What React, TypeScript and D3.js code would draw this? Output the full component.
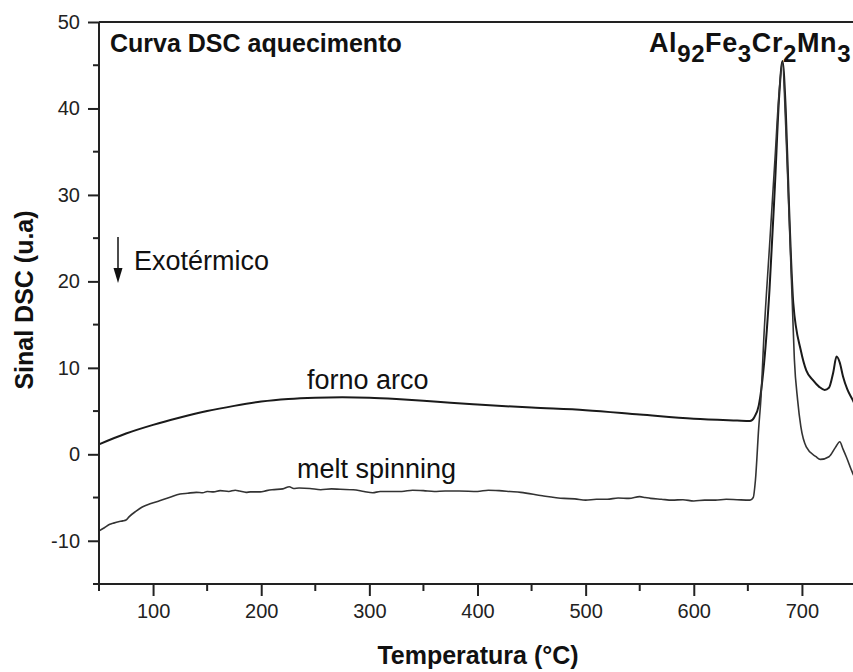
import { useEffect, useRef } from "react";
import * as d3 from "d3";

// forno arco (upper curve)
const arcoTemps = [50, 75, 100, 125, 150, 175, 200, 225, 250, 275, 300, 325, 350, 375, 400, 450, 500, 550, 600, 640, 652, 656, 660, 665, 670, 675, 679, 682, 685, 688, 692, 699, 704, 710, 716, 721, 725, 729, 732, 735, 738, 742, 747, 750];
const arcoValues = [1.15, 2.4, 3.4, 4.25, 5.0, 5.6, 6.1, 6.4, 6.55, 6.6, 6.55, 6.4, 6.2, 5.95, 5.75, 5.4, 5.1, 4.6, 4.1, 3.9, 3.85, 4.3, 5.6, 10.5, 19, 31, 41.5, 45.5, 40, 29, 17.5, 12, 9.7, 8.6, 7.8, 7.45, 7.7, 9.5, 11.3, 10.6, 9, 7.5, 6.27, 5.5];

// melt spinning (lower curve)
const meltTemps = [50, 55, 60, 63, 68, 72, 75, 78, 84, 90, 98, 106, 115, 125, 132, 140, 146, 150, 156, 162, 170, 176, 180, 186, 190, 199, 205, 210, 220, 226, 230, 235, 245, 255, 265, 273, 285, 295, 303, 310, 315, 330, 340, 350, 360, 370, 383, 400, 410, 420, 430, 440, 460, 480, 490, 500, 510, 520, 530, 540, 550, 555, 560, 570, 580, 590, 600, 610, 620, 630, 640, 652, 655, 657, 660, 662, 665, 670, 675, 679, 682, 685, 688, 691, 693, 696, 699, 704, 713, 717, 725, 731, 735, 738, 741, 747, 750];
const meltValues = [-8.87, -8.5, -8.1, -7.98, -7.8, -7.7, -7.6, -7.2, -6.6, -6.1, -5.7, -5.37, -5.0, -4.6, -4.5, -4.4, -4.45, -4.3, -4.35, -4.2, -4.3, -4.15, -4.25, -4.4, -4.35, -4.35, -4.2, -4.1, -4.0, -3.75, -3.95, -3.9, -3.95, -4.1, -4.0, -4.05, -4.1, -4.3, -4.45, -4.3, -4.3, -4.3, -4.15, -4.2, -4.3, -4.25, -4.25, -4.3, -4.15, -4.2, -4.3, -4.4, -4.8, -5.1, -5.15, -5.3, -5.2, -5.2, -5.05, -5.1, -4.9, -5.0, -5.1, -5.2, -5.3, -5.25, -5.4, -5.3, -5.3, -5.2, -5.25, -5.3, -5.0, -3.0, 3.0, 6.3, 14, 24, 34, 42, 45.3, 38, 28, 17.8, 11, 6.3, 3.2, 0.87, -0.28, -0.59, -0.28, 0.8, 1.45, 0.6, -0.28, -2.2, -3.0];

const xMajor = [100, 200, 300, 400, 500, 600, 700];
const xMinor = [50, 150, 250, 350, 450, 550, 650];
const yMajor = [-10, 0, 10, 20, 30, 40, 50];
const yMinor = [-15, -5, 5, 15, 25, 35, 45];

const FONT = "'Liberation Sans', Arial, sans-serif";

export default function App() {
  const ref = useRef<SVGSVGElement>(null);

  useEffect(() => {
    const svg = d3.select(ref.current);
    svg.selectAll("*").remove();

    const width = 853;
    const height = 672;
    const left = 99;
    const top = 22;
    const bottom = 584;

    const x = d3.scaleLinear().domain([50, 750]).range([left, 856]);
    const y = d3.scaleLinear().domain([-15, 50]).range([bottom, top]);

    svg.attr("width", width).attr("height", height).style("font-family", FONT);

    // curves
    const line = d3
      .line<[number, number]>()
      .x((d) => x(d[0]))
      .y((d) => y(d[1]))
      .curve(d3.curveMonotoneX);

    svg
      .append("path")
      .datum(arcoTemps.map((t, i) => [t, arcoValues[i]] as [number, number]))
      .attr("d", line)
      .attr("fill", "none")
      .attr("stroke", "#1a1a1a")
      .attr("stroke-width", 2);

    svg
      .append("path")
      .datum(meltTemps.map((t, i) => [t, meltValues[i]] as [number, number]))
      .attr("d", line)
      .attr("fill", "none")
      .attr("stroke", "#333")
      .attr("stroke-width", 1.6);

    // frame
    const axisColor = "#222";
    svg.append("line").attr("x1", left).attr("x2", width).attr("y1", top).attr("y2", top)
      .attr("stroke", axisColor).attr("stroke-width", 2);
    svg.append("line").attr("x1", left).attr("x2", left).attr("y1", top).attr("y2", bottom)
      .attr("stroke", axisColor).attr("stroke-width", 2);
    svg.append("line").attr("x1", left).attr("x2", width).attr("y1", bottom).attr("y2", bottom)
      .attr("stroke", axisColor).attr("stroke-width", 2);

    const fmt = (d: d3.NumberValue) => String(d);

    // y axis
    const yAxis = svg.append("g").attr("transform", `translate(${left},0)`);
    yAxis.call(d3.axisLeft(y).tickValues(yMajor).tickSize(11).tickPadding(8).tickFormat(fmt));
    yAxis.select(".domain").remove();
    yAxis.selectAll("line").attr("stroke", axisColor).attr("stroke-width", 2);
    yAxis.selectAll("text").attr("font-size", 20).attr("font-family", FONT).attr("fill", "#222");
    svg.append("g").selectAll("line").data(yMinor).join("line")
      .attr("x1", left - 6).attr("x2", left)
      .attr("y1", (d) => y(d)).attr("y2", (d) => y(d))
      .attr("stroke", axisColor).attr("stroke-width", 2);

    // x axis
    const xAxis = svg.append("g").attr("transform", `translate(0,${bottom})`);
    xAxis.call(d3.axisBottom(x).tickValues(xMajor).tickSize(12).tickPadding(8).tickFormat(fmt));
    xAxis.select(".domain").remove();
    xAxis.selectAll("line").attr("stroke", axisColor).attr("stroke-width", 2);
    xAxis.selectAll("text").attr("font-size", 20).attr("font-family", FONT).attr("fill", "#222");
    svg.append("g").selectAll("line").data(xMinor).join("line")
      .attr("x1", (d) => x(d)).attr("x2", (d) => x(d))
      .attr("y1", bottom).attr("y2", bottom + 7)
      .attr("stroke", axisColor).attr("stroke-width", 2);

    // axis titles
    svg.append("text")
      .attr("x", 478).attr("y", 664)
      .attr("text-anchor", "middle")
      .attr("font-size", 25).attr("font-weight", "bold").attr("fill", "#111")
      .text("Temperatura (°C)");

    svg.append("text")
      .attr("transform", `translate(33,300) rotate(-90)`)
      .attr("text-anchor", "middle")
      .attr("font-size", 25).attr("font-weight", "bold").attr("fill", "#111")
      .text("Sinal DSC (u.a)");

    // titles inside plot
    svg.append("text")
      .attr("x", 110).attr("y", 52)
      .attr("font-size", 25).attr("font-weight", "bold").attr("fill", "#111")
      .text("Curva DSC aquecimento");

    const formula = svg.append("text")
      .attr("x", 649).attr("y", 52)
      .attr("font-size", 27).attr("font-weight", "bold").attr("fill", "#111")
      .attr("letter-spacing", 0.6);
    const parts: [string, boolean][] = [["Al", false], ["92", true], ["Fe", false], ["3", true], ["Cr", false], ["2", true], ["Mn", false], ["3", true]];
    parts.forEach(([t, sub], i) => {
      const prevSub = i > 0 && parts[i - 1][1];
      formula.append("tspan")
        .attr("dy", sub ? 10 : prevSub ? -10 : 0)
        .attr("font-size", sub ? 24 : 27)
        .text(t);
    });

    // annotations
    svg.append("text").attr("x", 307).attr("y", 389)
      .attr("font-size", 27).attr("fill", "#111").text("forno arco");
    svg.append("text").attr("x", 297).attr("y", 478)
      .attr("font-size", 27).attr("fill", "#111").text("melt spinning");
    svg.append("text").attr("x", 134).attr("y", 270)
      .attr("font-size", 27).attr("fill", "#111").text("Exotérmico");

    // exothermic arrow
    svg.append("line").attr("x1", 118).attr("x2", 118).attr("y1", 237).attr("y2", 272)
      .attr("stroke", "#111").attr("stroke-width", 1.5);
    svg.append("path")
      .attr("d", d3.line()([[113.5, 268], [122.5, 268], [118, 283]]) + "Z")
      .attr("fill", "#111");
  }, []);

  return (
    <div style={{ position: "absolute", left: 0, top: 0 }}>
      <svg ref={ref}></svg>
    </div>
  );
}
